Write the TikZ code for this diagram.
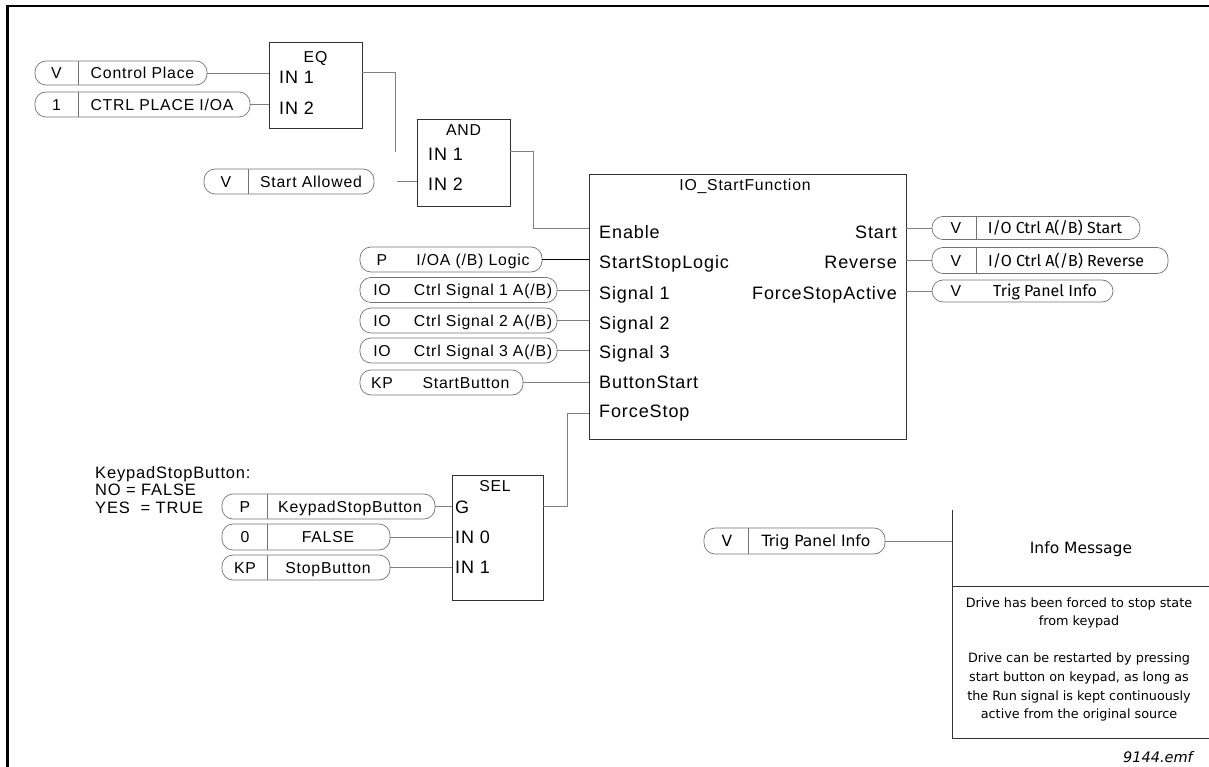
\documentclass[tikz,border=0pt]{standalone}
\usepackage{fontspec}
\setmainfont{Liberation Sans}
\newfontfamily\arl{Liberation Sans}[LetterSpace=5]
\newfontfamily\dinf{Fira Sans}
\newfontfamily\tahf{DejaVu Sans}
\newcommand\fpill{\arl\fontsize{15.8}{18}\selectfont}
\newcommand\fport{\arl\fontsize{18}{21}\selectfont}
\newcommand\fttl{\arl\fontsize{15.8}{18}\selectfont}
\newcommand\fnote{\arl\fontsize{16.5}{19}\selectfont}
\newcommand\fdin{\dinf\fontsize{16}{19}\selectfont}
\newcommand\ftahbig{\tahf\fontsize{15.5}{18}\selectfont}
\newcommand\ftahsm{\tahf\fontsize{12.8}{15}\selectfont}
\definecolor{ln}{gray}{0.5}
\definecolor{bx}{gray}{0.2}
\definecolor{pl}{gray}{0.45}
\tikzset{
 pill/.style={draw=pl, line width=0.7pt, rounded corners=11pt, inner sep=0pt, outer sep=0pt, anchor=west, minimum height=25pt},
 box/.style={draw=bx, line width=0.9pt, inner sep=0pt, outer sep=0pt, anchor=north west},
 conn/.style={draw=ln, line width=0.7pt},
 div/.style={draw=pl, line width=0.6pt},
 ptxt/.style={inner sep=0pt, font=\fpill, text height=11.3pt, text depth=0pt},
 port/.style={inner sep=0pt, font=\fport, anchor=west, text height=12.9pt, text depth=0pt},
 rport/.style={port, anchor=east},
 ttl/.style={inner sep=0pt, font=\fttl, text height=11.3pt, text depth=0pt},
 dtxt/.style={inner sep=0pt, font=\fdin, text height=11pt, text depth=0pt},
 tbig/.style={inner sep=0pt, font=\ftahbig, text height=11.3pt, text depth=0pt},
 tsm/.style={inner sep=0pt, font=\ftahsm, text height=9.3pt, text depth=0pt},
 note/.style={inner sep=0pt, font=\fnote, anchor=west, text height=11.8pt, text depth=0pt},
}
\begin{document}
\begin{tikzpicture}[x=1pt,y=-1pt]
\useasboundingbox (0,0) rectangle (1209,767);
% frame
\draw[line width=2.6pt] (7.3,767) -- (7.3,6.2) -- (1209,6.2);

% ---------- EQ ----------
\node[box, minimum width=93pt, minimum height=86pt] (eq) at (269,42) {};
\node[ttl] (eqt) at (315.5,57) {EQ};
\node[port] (eqi1) at (279,77) {IN 1};
\node[port] (eqi2) at (279,108) {IN 2};

\node[pill, minimum width=172pt, minimum height=24pt] (cp) at (35,73) {};
\draw[div] (78,61) -- (78,85);
\node[ptxt] (cpv) at (56.5,73) {V};
\node[ptxt] (cpt) at (142.5,73) {Control Place};

\node[pill, minimum width=215pt] (cpl) at (35,104.5) {};
\draw[div] (78,92) -- (78,117);
\node[ptxt] (cplv) at (56.5,104.5) {1};
\node[ptxt] (cplt) at (162,104.5) {CTRL PLACE I/OA};

\draw[conn] (cp.east) -- (cp.east -| eq.west);
\draw[conn] (cpl.east) -- (cpl.east -| eq.west);
\coordinate (eqa) at (395,72);
\coordinate (eqb) at (395,152);
\draw[conn] (eqa -| eq.east) -- (eqa) -- (eqb);

% ---------- AND ----------
\node[box, minimum width=93pt, minimum height=87pt] (and) at (417,119) {};
\node[ttl] (andt) at (463.5,130) {AND};
\node[port] (andi1) at (428,154) {IN 1};
\node[port] (andi2) at (428,184) {IN 2};

\node[pill, minimum width=170pt] (sa) at (204,181.5) {};
\draw[div] (248,169) -- (248,194);
\node[ptxt] (sav) at (226,181.5) {V};
\node[ptxt] (sat) at (311,181.5) {Start Allowed};
\coordinate (andin) at (397,181);
\draw[conn] (andin) -- (andin -| and.west);

\coordinate (anda) at (533,151);
\coordinate (andb) at (533,228);
\draw[conn] (anda -| and.east) -- (anda) -- (andb) -- (andb -| 589,0);

% ---------- IO_StartFunction ----------
\node[box, minimum width=317pt, minimum height=265pt] (io) at (589,174) {};
\node[ttl] (iot) at (745,185) {IO\_StartFunction};
\node[port] (pen) at (599,232) {Enable};
\node[port] (pssl) at (599,262) {StartStopLogic};
\node[port] (ps1) at (599,293) {Signal 1};
\node[port] (ps2) at (599,323) {Signal 2};
\node[port] (ps3) at (599,352) {Signal 3};
\node[port] (pbs) at (599,382) {ButtonStart};
\node[port] (pfs) at (599,411) {ForceStop};
\node[rport] (pst) at (897,232) {Start};
\node[rport] (prv) at (897,262) {Reverse};
\node[rport] (pfa) at (897,293) {ForceStopActive};

\node[pill, minimum width=182pt] (ssl) at (360,259.5) {};
\node[ptxt] (sslv) at (382,259.5) {P};
\node[ptxt] (sslt) at (473,259.5) {I/OA (/B) Logic};
\node[pill, minimum width=197pt] (s1) at (360,290) {};
\node[ptxt] (s1v) at (382,290) {IO};
\node[ptxt] (s1t) at (483,290) {Ctrl Signal 1 A(/B)};
\node[pill, minimum width=197pt] (s2) at (360,320.5) {};
\node[ptxt] (s2v) at (382,320.5) {IO};
\node[ptxt] (s2t) at (483,320.5) {Ctrl Signal 2 A(/B)};
\node[pill, minimum width=197pt] (s3) at (360,350.5) {};
\node[ptxt] (s3v) at (382,350.5) {IO};
\node[ptxt] (s3t) at (483,350.5) {Ctrl Signal 3 A(/B)};
\node[pill, minimum width=163pt] (sb) at (360,382.5) {};
\node[ptxt] (sbv) at (382,382.5) {KP};
\node[ptxt] (sbt) at (466,382.5) {StartButton};

\draw[line width=0.9pt] (ssl.east) -- (ssl.east -| io.west);
\draw[conn] (s1.east) -- (s1.east -| io.west);
\draw[conn] (s2.east) -- (s2.east -| io.west);
\draw[conn] (s3.east) -- (s3.east -| io.west);
\draw[conn] (sb.east) -- (sb.east -| io.west);

% outputs
\node[pill, minimum width=208pt, minimum height=23pt] (ost) at (932,228) {};
\draw[div] (976,216.5) -- (976,239.5);
\node[ptxt] (ostv) at (956,228) {V};
\node[dtxt] (ostt) at (1055,228) {I/O Ctrl A(/B) Start};
\node[pill, minimum width=236pt, minimum height=26pt] (orv) at (932,260.5) {};
\draw[div] (976,247.5) -- (976,273.5);
\node[ptxt] (orvv) at (956,260.5) {V};
\node[dtxt] (orvt) at (1066,260.5) {I/O Ctrl A(/B) Reverse};
\node[pill, minimum width=181pt, minimum height=22pt] (otp) at (932,291) {};
\node[ptxt] (otpv) at (956,291) {V};
\node[dtxt] (otpt) at (1045,291) {Trig Panel Info};

\draw[conn] (ost.west -| io.east) -- (ost.west);
\draw[conn] (orv.west -| io.east) -- (orv.west);
\draw[conn] (otp.west -| io.east) -- (otp.west);

% ---------- SEL ----------
\node[box, minimum width=91pt, minimum height=125pt] (sel) at (452,475) {};
\node[ttl] (selt) at (495,486) {SEL};
\node[port] (selg) at (455,507) {G};
\node[port] (sel0) at (455,537) {IN 0};
\node[port] (sel1) at (455,567) {IN 1};

\node[pill, minimum width=213pt] (ksb) at (222,506.5) {};
\draw[div] (267,494) -- (267,519);
\node[ptxt] (ksbv) at (245,506.5) {P};
\node[ptxt] (ksbt) at (350,506.5) {KeypadStopButton};
\node[pill, minimum width=168pt, minimum height=26pt] (fal) at (222,537) {};
\draw[div] (267,524) -- (267,550);
\node[ptxt] (falv) at (245,537) {0};
\node[ptxt] (falt) at (328,537) {FALSE};
\node[pill, minimum width=168pt] (stb) at (222,567.5) {};
\draw[div] (267,555) -- (267,580);
\node[ptxt] (stbv) at (245,567.5) {KP};
\node[ptxt] (stbt) at (328,567.5) {StopButton};

\draw[conn] (ksb.east) -- (ksb.east -| sel.west);
\draw[conn] (fal.east) -- (fal.east -| sel.west);
\draw[conn] (stb.east) -- (stb.east -| sel.west);

\coordinate (sela) at (567,506);
\coordinate (selb) at (567,413);
\draw[conn] (sela -| sel.east) -- (sela) -- (selb) -- (selb -| io.west);

\node[note] (n1) at (95,473) {KeypadStopButton:};
\node[note] (n2) at (95,490) {NO = FALSE};
\node[note] (n3) at (95,508) {YES \ = TRUE};

% ---------- Info message ----------
\node[pill, minimum width=181pt, minimum height=26pt] (itp) at (704,541) {};
\draw[div] (748,528) -- (748,554);
\node[tbig] (itpv) at (727,541) {V};
\node[tbig] (itpt) at (816,541) {Trig Panel Info};
\coordinate (infl) at (952,541);
\draw[conn] (itp.east) -- (infl);
\draw[draw=bx, line width=0.9pt] (952,510) -- (952,738) -- (1209,738);
\draw[draw=bx, line width=0.9pt] (952,586) -- (1209,586);
\node[tbig] (imt) at (1081,548) {Info Message};
\node[tsm] (m1) at (1079,603) {Drive has been forced to stop state};
\node[tsm] (m2) at (1079,621) {from keypad};
\node[tsm] (m3) at (1079,658) {Drive can be restarted by pressing};
\node[tsm] (m4) at (1079,677) {start button on keypad, as long as};
\node[tsm] (m5) at (1079,696) {the Run signal is kept continuously};
\node[tsm] (m6) at (1079,714) {active from the original source};

\node[inner sep=0pt, font=\tahf\itshape\fontsize{14.5}{17}\selectfont, text height=10.5pt, text depth=0pt] (emf) at (1158,757) {9144.emf};
\end{tikzpicture}
\end{document}
